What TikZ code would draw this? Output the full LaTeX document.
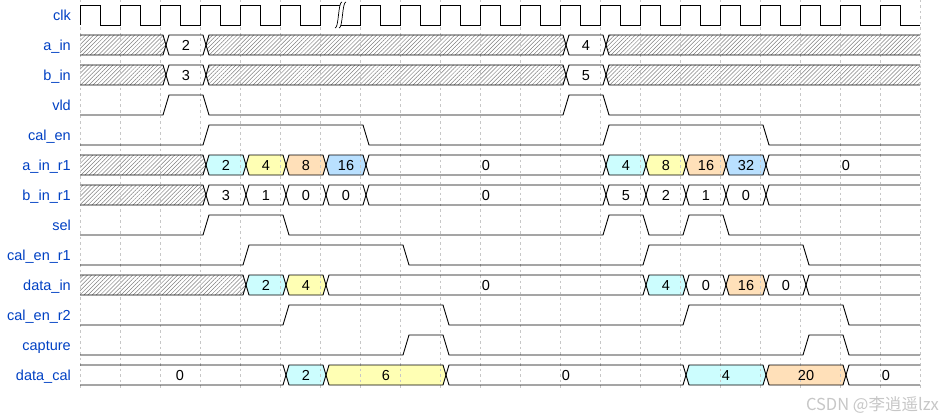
\documentclass[tikz,border=0pt]{standalone}
\usepackage{fontspec}
\setmainfont{Liberation Sans}
\newfontfamily\cjk{Noto Sans CJK SC}
\usetikzlibrary{patterns.meta}
\definecolor{lblue}{HTML}{0041C4}
\definecolor{wcyan}{HTML}{CCFDFE}
\definecolor{wyel}{HTML}{FFFFB4}
\definecolor{worg}{HTML}{FFE0B9}
\definecolor{wblu}{HTML}{B9E0FF}
\newif\iffillpass
\newcounter{labno}
\tikzset{
  wave/.style={line width=0.9pt, line join=miter},
  gridln/.style={black!22, line width=0.6pt, dash pattern=on 2.5pt off 3pt},
  fcyan/.style={fill=wcyan}, fyel/.style={fill=wyel}, forg/.style={fill=worg},
  fblue/.style={fill=wblu}, fnone/.style={},
  fhatch/.style={pattern={Lines[angle=45,distance=2.9pt,line width=0.5pt]}, pattern color=black!50},
  dlabel/.style={font=\fontsize{14.5}{16}\selectfont, inner sep=0pt, anchor=base},
  lanelabel/.style={font=\fontsize{14.5}{16}\selectfont, text=lblue, inner sep=0pt, anchor=base east}
}
% data block: lane, x1, x2, fill style, label
\newcommand\wblk[5]{%
  \pgfmathsetmacro\yT{5+30*#1}\pgfmathsetmacro\yB{25+30*#1}\pgfmathsetmacro\yM{15+30*#1}%
  \iffillpass
    \path[#4] (#2,\yM) -- (#2+3,\yT) -- (#3-3,\yT) -- (#3,\yM) -- (#3-3,\yB) -- (#2+3,\yB) -- cycle;
  \else
    \draw[wave] (#2,\yM) -- (#2+3,\yT) -- (#3-3,\yT) -- (#3,\yM);
    \draw[wave] (#2,\yM) -- (#2+3,\yB) -- (#3-3,\yB) -- (#3,\yM);
    \stepcounter{labno}%
    \node[dlabel] (d\arabic{labno}) at ({(#2+#3)/2},\yM+5.3) {#5};
  \fi}
% binary signal: lane, list of pulses x1/x2
\newcommand\wpulse[2]{%
  \pgfmathsetmacro\yT{5+30*#1}\pgfmathsetmacro\yB{25+30*#1}%
  \draw[wave] (80,\yB) \foreach \a/\b in {#2}{ -- (\a-3,\yB) -- (\a+3,\yT) -- (\b-3,\yT) -- (\b+3,\yB)} -- (920,\yB);}
\newcommand\allblocks{%
  % a_in
  \wblk{1}{74}{166}{fhatch}{}\wblk{1}{166}{206}{fnone}{2}\wblk{1}{206}{566}{fhatch}{}%
  \wblk{1}{566}{606}{fnone}{4}\wblk{1}{606}{926}{fhatch}{}%
  % b_in
  \wblk{2}{74}{166}{fhatch}{}\wblk{2}{166}{206}{fnone}{3}\wblk{2}{206}{566}{fhatch}{}%
  \wblk{2}{566}{606}{fnone}{5}\wblk{2}{606}{926}{fhatch}{}%
  % a_in_r1
  \wblk{5}{74}{206}{fhatch}{}\wblk{5}{206}{246}{fcyan}{2}\wblk{5}{246}{286}{fyel}{4}%
  \wblk{5}{286}{326}{forg}{8}\wblk{5}{326}{366}{fblue}{16}\wblk{5}{366}{606}{fnone}{0}%
  \wblk{5}{606}{646}{fcyan}{4}\wblk{5}{646}{686}{fyel}{8}\wblk{5}{686}{726}{forg}{16}%
  \wblk{5}{726}{766}{fblue}{32}\wblk{5}{766}{926}{fnone}{0}%
  % b_in_r1
  \wblk{6}{74}{206}{fhatch}{}\wblk{6}{206}{246}{fnone}{3}\wblk{6}{246}{286}{fnone}{1}%
  \wblk{6}{286}{326}{fnone}{0}\wblk{6}{326}{366}{fnone}{0}\wblk{6}{366}{606}{fnone}{0}%
  \wblk{6}{606}{646}{fnone}{5}\wblk{6}{646}{686}{fnone}{2}\wblk{6}{686}{726}{fnone}{1}%
  \wblk{6}{726}{766}{fnone}{0}\wblk{6}{766}{926}{fnone}{}%
  % data_in
  \wblk{9}{74}{246}{fhatch}{}\wblk{9}{246}{286}{fcyan}{2}\wblk{9}{286}{326}{fyel}{4}%
  \wblk{9}{326}{646}{fnone}{0}\wblk{9}{646}{686}{fcyan}{4}\wblk{9}{686}{726}{fnone}{0}%
  \wblk{9}{726}{766}{forg}{16}\wblk{9}{766}{806}{fnone}{0}\wblk{9}{806}{926}{fnone}{}%
  % data_cal
  \wblk{12}{74}{286}{fnone}{0}\wblk{12}{286}{326}{fcyan}{2}\wblk{12}{326}{446}{fyel}{6}%
  \wblk{12}{446}{686}{fnone}{0}\wblk{12}{686}{766}{fcyan}{4}\wblk{12}{766}{846}{forg}{20}%
  \wblk{12}{846}{926}{fnone}{0}%
}
\begin{document}
\begin{tikzpicture}[x=1pt, y=-1pt]
\useasboundingbox (0,0) rectangle (943,420);
\fill[white] (0,0) rectangle (943,420);
% fills
\begin{scope}
  \clip (80,-5) rectangle (920,400);
  \fillpasstrue
  \allblocks
\end{scope}
% grid
\foreach \k in {0,...,21} \draw[gridln] (80+40*\k,0) -- (80+40*\k,389);
% strokes
\begin{scope}
  \clip (80,-5) rectangle (920,400);
  \fillpassfalse
  \allblocks
  % clk
  \draw[wave] (80,25) \foreach \k in {0,...,20}{ -- (80+40*\k,5) -- (100+40*\k,5) -- (100+40*\k,25) -- (120+40*\k,25)};
  \wpulse{3}{166/206,566/606}
  \wpulse{4}{206/366,606/766}
  \wpulse{7}{206/286,606/646,686/726}
  \wpulse{8}{246/406,646/806}
  \wpulse{10}{286/446,686/846}
  \wpulse{11}{406/446,806/846}
\end{scope}
% clock gap
\fill[white] (335,28) .. controls (339,28) and (338,2) .. (342,2) -- (346,2) .. controls (342,2) and (343,28) .. (339,28) -- cycle;
\draw[line width=0.7pt] (335,28) .. controls (339,28) and (338,2) .. (342,2);
\draw[line width=0.7pt] (339,28) .. controls (343,28) and (342,2) .. (346,2);
% lane labels
\node[lanelabel] (lclk) at (71,20.5) {clk};
\node[lanelabel] (lain) at (71,50.5) {a\_in};
\node[lanelabel] (lbin) at (71,80.5) {b\_in};
\node[lanelabel] (lvld) at (71,110.5) {vld};
\node[lanelabel] (lcalen) at (71,140.5) {cal\_en};
\node[lanelabel] (lainr) at (71,170.5) {a\_in\_r1};
\node[lanelabel] (lbinr) at (71,200.5) {b\_in\_r1};
\node[lanelabel] (lsel) at (71,230.5) {sel};
\node[lanelabel] (lcalenr1) at (71,260.5) {cal\_en\_r1};
\node[lanelabel] (ldatain) at (71,290.5) {data\_in};
\node[lanelabel] (lcalenr2) at (71,320.5) {cal\_en\_r2};
\node[lanelabel] (lcapture) at (71,350.5) {capture};
\node[lanelabel] (ldatacal) at (71,380.5) {data\_cal};
% watermark
\node[anchor=base east, inner sep=0pt, text=black!22, font=\cjk\fontsize{16.5}{18}\selectfont] (wm) at (939,410) {CSDN @李逍遥lzx};
\end{tikzpicture}
\end{document}
